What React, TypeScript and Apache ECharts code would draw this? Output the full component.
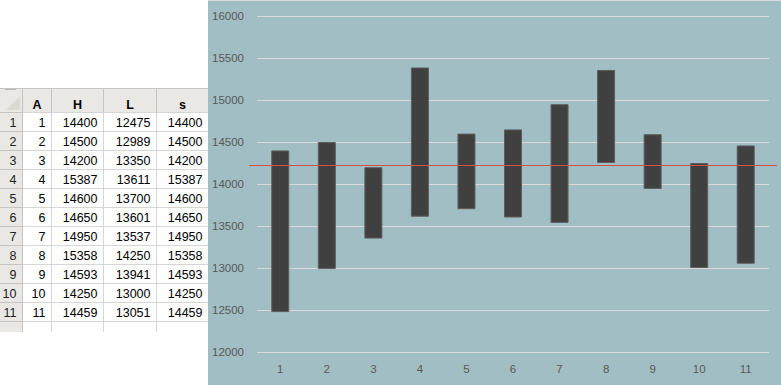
import React, { useEffect, useRef } from "react";
import * as echarts from "echarts";

const categories = ["1", "2", "3", "4", "5", "6", "7", "8", "9", "10", "11"];
const highValues = [14400, 14500, 14200, 15387, 14600, 14650, 14950, 15358, 14593, 14250, 14459];
const lowValues = [12475, 12989, 13350, 13611, 13700, 13601, 13537, 14250, 13941, 13000, 13051];
const sValues = [14400, 14500, 14200, 15387, 14600, 14650, 14950, 15358, 14593, 14250, 14459];
const tableHeaders = ["A", "H", "L", "s"];
const yMin = 12000;
const yMax = 16000;
const yInterval = 500;
const referenceValue = 14225;

const FONT = "'Liberation Sans', Arial, sans-serif";

function buildTable(): any[] {
  const els: any[] = [];
  const colEdges = [22.5, 51.5, 103.5, 156.5, 208.5];
  const headTop = 88.5;
  const headBottom = 112.5;
  const rowH = 19;
  const nRows = categories.length;
  const tableBottom = 332;
  const headerFill = "#e9e8e4";
  const gridCol = "#d6d6d6";
  const hdrLine = "#c4c4c4";

  els.push({ type: "rect", id: "hdrRow", z: 1, shape: { x: 0, y: headTop, width: 208, height: headBottom - headTop }, style: { fill: headerFill } });
  els.push({ type: "rect", id: "hdrCol", z: 1, shape: { x: 0, y: headBottom, width: 22.5, height: tableBottom - headBottom }, style: { fill: headerFill } });
  els.push({ type: "polygon", id: "corner", z: 2, shape: { points: [[20, 96], [20, 110], [6, 110]] }, style: { fill: "#dcdad5" } });
  els.push({ type: "line", id: "topmark", z: 2, shape: { x1: 5, y1: 89, x2: 16, y2: 89 }, style: { stroke: "#8a8a8a", lineWidth: 1 } });
  els.push({ type: "line", id: "topLine", z: 2, shape: { x1: 0, y1: headTop, x2: 208, y2: headTop }, style: { stroke: hdrLine, lineWidth: 1 } });
  for (let k = 0; k <= nRows; k++) {
    const y = headBottom + rowH * k;
    els.push({ type: "line", id: "hl" + k, z: 2, shape: { x1: 22.5, y1: y, x2: 208, y2: y }, style: { stroke: gridCol, lineWidth: 1 } });
    els.push({ type: "line", id: "hlh" + k, z: 2, shape: { x1: 0, y1: y, x2: 22.5, y2: y }, style: { stroke: hdrLine, lineWidth: 1 } });
  }
  colEdges.slice(0, 4).forEach((x, i) => {
    els.push({ type: "line", id: "vl" + i, z: 2, shape: { x1: x, y1: headBottom, x2: x, y2: tableBottom }, style: { stroke: i === 0 ? hdrLine : gridCol, lineWidth: 1 } });
    els.push({ type: "line", id: "vlh" + i, z: 2, shape: { x1: x, y1: headTop, x2: x, y2: headBottom }, style: { stroke: hdrLine, lineWidth: 1 } });
  });
  tableHeaders.forEach((h, i) => {
    const cx = (colEdges[i] + colEdges[i + 1]) / 2;
    els.push({ type: "text", id: "ht" + i, z: 3, x: cx, y: 105, style: { text: h, fill: "#000", font: "bold 12.5px " + FONT, textAlign: "center", textVerticalAlign: "middle" } });
  });
  const cols = [categories.map((c) => c), highValues.map(String), lowValues.map(String), sValues.map(String)];
  for (let r = 0; r < nRows; r++) {
    const cy = headBottom + rowH * r + rowH / 2 + 0.5;
    els.push({ type: "text", id: "rn" + r, z: 3, x: 16.5, y: cy, style: { text: String(r + 1), fill: "#222", font: "12.5px " + FONT, textAlign: "right", textVerticalAlign: "middle" } });
    cols.forEach((col, c) => {
      els.push({ type: "text", id: "c" + r + "_" + c, z: 3, x: colEdges[c + 1] - 6, y: cy, style: { text: col[r], fill: "#000", font: "12.5px " + FONT, textAlign: "right", textVerticalAlign: "middle" } });
    });
  }
  return els;
}

export default function App() {
  const ref = useRef<HTMLDivElement>(null);
  useEffect(() => {
    if (!ref.current) return;
    const chart = echarts.init(ref.current, null, { renderer: "svg" });
    const baseGraphics: any[] = [
      { type: "rect", id: "chartBg", z: -100, shape: { x: 208, y: 0, width: 573, height: 385 }, style: { fill: "#a0bec3" } },
      { type: "line", id: "chartTop", z: -99, shape: { x1: 208, y1: 0.5, x2: 781, y2: 0.5 }, style: { stroke: "#d3dcdd", lineWidth: 1 } },
      ...buildTable(),
    ];
    chart.setOption({
      animation: false,
      backgroundColor: "#ffffff",
      grid: { left: 257, right: 12, top: 16, bottom: 33, containLabel: false },
      xAxis: {
        type: "category",
        data: categories,
        axisLine: { show: false },
        axisTick: { show: false },
        axisLabel: { color: "#595959", fontSize: 11.5, fontFamily: FONT, margin: 11 },
        splitLine: { show: false },
      },
      yAxis: {
        type: "value",
        min: yMin,
        max: yMax,
        interval: yInterval,
        axisLine: { show: false },
        axisTick: { show: false },
        axisLabel: { color: "#595959", fontSize: 11.5, fontFamily: FONT, margin: 13, formatter: (v: number) => String(v) },
        splitLine: { lineStyle: { color: "#dadada", width: 1 } },
      },
      series: [
        {
          type: "bar",
          stack: "range",
          data: lowValues,
          barWidth: 18,
          itemStyle: { color: "transparent" },
          silent: true,
        },
        {
          type: "bar",
          stack: "range",
          data: highValues.map((h, i) => h - lowValues[i]),
          barWidth: 18,
          itemStyle: { color: "#404040", borderColor: "#5e5e5e", borderWidth: 1 },
        },
      ],
      graphic: baseGraphics,
    });
    const yPix = chart.convertToPixel({ yAxisIndex: 0 }, referenceValue) as number;
    const yLine = Math.round(yPix) + 0.5;
    chart.setOption({
      graphic: [
        ...baseGraphics,
        { type: "line", id: "refLine", z: 100, shape: { x1: 249, y1: yLine, x2: 777, y2: yLine }, style: { stroke: "#d0504a", lineWidth: 1 } },
      ],
    });
    return () => chart.dispose();
  }, []);
  return <div ref={ref} style={{ position: "fixed", left: 0, top: 0, width: 781, height: 385 }} />;
}
